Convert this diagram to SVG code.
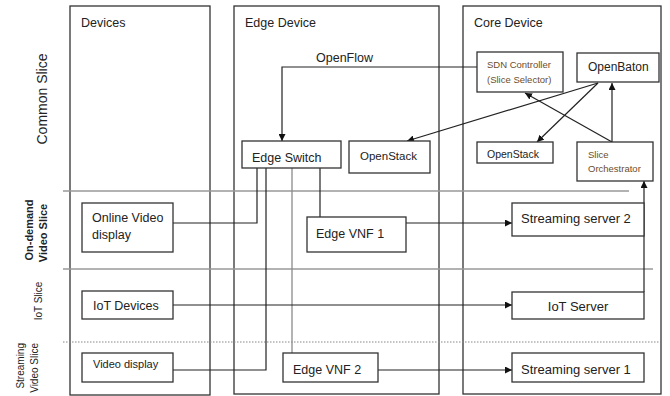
<svg xmlns="http://www.w3.org/2000/svg" width="670" height="396" viewBox="0 0 670 396">
  <style>
    text { font-family: "Liberation Sans", Arial, sans-serif; fill: #222; }
    .col { fill: none; stroke: #333; stroke-width: 1.3; }
    .box { fill: #fff; stroke: #333; stroke-width: 1.3; }
    .div { stroke: #999; stroke-width: 1.3; fill: none; }
    .dot { stroke: #888; stroke-width: 1.2; stroke-dasharray: 1.5 1.5; fill: none; }
    .ln { stroke: #222; stroke-width: 1.2; fill: none; }
    .gray { stroke: #8a8a8a; stroke-width: 1.3; fill: none; }
    .title { font-size: 12.5px; }
    .lbl { font-size: 12.5px; }
    .small { font-size: 9.5px; fill: #6a4e2c; }
  </style>
  <defs>
    <marker id="arr" viewBox="0 0 10 10" refX="10" refY="5" markerWidth="7" markerHeight="7" orient="auto" markerUnits="userSpaceOnUse">
      <path d="M0,0 L10,5 L0,10 z" fill="#111"/>
    </marker>
  </defs>

  <!-- column frames -->
  <g id="col-devices">
    <rect class="col" x="70" y="6" width="140" height="389"/>
    <text class="title" x="81" y="27">Devices</text>
  </g>
  <g id="col-edge">
    <rect class="col" x="234" y="6" width="205" height="388"/>
    <text class="title" x="245" y="27">Edge Device</text>
  </g>
  <g id="col-core">
    <rect class="col" x="463" y="6" width="198" height="388"/>
    <text class="title" x="474" y="27">Core Device</text>
  </g>

  <!-- slice dividers -->
  <g id="dividers">
    <line class="div" x1="63" y1="191" x2="629" y2="191"/>
    <line class="div" x1="63" y1="269" x2="653" y2="269"/>
    <line class="dot" x1="63" y1="342" x2="660" y2="342"/>
  </g>

  <!-- slice labels -->
  <g id="slice-labels">
    <text transform="translate(47,99) rotate(-90)" text-anchor="middle" font-size="14" fill="#333">Common Slice</text>
    <text transform="translate(33,230) rotate(-90)" text-anchor="middle" font-size="11" font-weight="bold" fill="#222">On-demand</text>
    <text transform="translate(47,233) rotate(-90)" text-anchor="middle" font-size="11" font-weight="bold" fill="#222">Video Slice</text>
    <text transform="translate(42,301) rotate(-90)" text-anchor="middle" font-size="10" fill="#8a8a8a">IoT Slice</text>
    <text transform="translate(24,343) rotate(-90)" text-anchor="end" font-size="10" fill="#555">Streaming</text>
    <text transform="translate(38,343) rotate(-90)" text-anchor="end" font-size="10" fill="#555">Video Slice</text>
  </g>

  <!-- connectors -->
  <g id="connectors">
    <path class="ln" d="M477,67 H282 V141" marker-end="url(#arr)"/>
    <text x="316" y="62" font-size="12.5">OpenFlow</text>
    <path class="ln" d="M598,83 L407,141" marker-end="url(#arr)"/>
    <path class="ln" d="M598,83 L537,142" marker-end="url(#arr)"/>
    <path class="ln" d="M612,142 L525,93" marker-end="url(#arr)"/>
    <path class="ln" d="M612,142 V83" marker-end="url(#arr)"/>
    <path class="ln" d="M644,292 V181" marker-end="url(#arr)"/>
    <path class="ln" d="M257,168 V223 H173"/>
    <path class="ln" d="M266,168 V370 H173"/>
    <path class="gray" d="M292,168 V353"/>
    <path class="ln" d="M320,168 V217"/>
    <path class="ln" d="M406,223 H512" marker-end="url(#arr)"/>
    <path class="ln" d="M173,305 H512" marker-end="url(#arr)"/>
    <path class="ln" d="M378,370 H512" marker-end="url(#arr)"/>
  </g>

  <!-- device nodes -->
  <g id="online-video-display">
    <rect class="box" x="82" y="203" width="91" height="49"/>
    <text class="lbl" x="92" y="222">Online Video</text>
    <text class="lbl" x="92" y="239">display</text>
  </g>
  <g id="iot-devices">
    <rect class="box" x="82" y="291" width="91" height="28"/>
    <text class="lbl" x="93" y="310">IoT Devices</text>
  </g>
  <g id="video-display">
    <rect class="box" x="82" y="353" width="91" height="29"/>
    <text x="93" y="368" font-size="11">Video display</text>
  </g>

  <!-- edge nodes -->
  <g id="edge-switch">
    <rect class="box" x="242" y="141" width="99" height="27"/>
    <text class="lbl" x="252" y="162">Edge Switch</text>
  </g>
  <g id="edge-openstack">
    <rect class="box" x="349" y="141" width="81" height="32"/>
    <text x="360" y="160" font-size="11.5">OpenStack</text>
  </g>
  <g id="edge-vnf-1">
    <rect class="box" x="307" y="217" width="99" height="35"/>
    <text class="lbl" x="316" y="238">Edge VNF 1</text>
  </g>
  <g id="edge-vnf-2">
    <rect class="box" x="283" y="353" width="95" height="29"/>
    <text class="lbl" x="293" y="374">Edge VNF 2</text>
  </g>

  <!-- core nodes -->
  <g id="sdn-controller">
    <rect class="box" x="477" y="52" width="86" height="40"/>
    <text class="small" x="487" y="68">SDN Controller</text>
    <text class="small" x="487" y="83">(Slice Selector)</text>
  </g>
  <g id="openbaton">
    <rect class="box" x="577" y="53" width="82" height="29"/>
    <text x="588" y="71" font-size="12">OpenBaton</text>
  </g>
  <g id="core-openstack">
    <rect class="box" x="477" y="142" width="76" height="21"/>
    <text x="487" y="158" font-size="10.5">OpenStack</text>
  </g>
  <g id="slice-orchestrator">
    <rect class="box" x="577" y="142" width="76" height="39"/>
    <text class="small" x="588" y="158">Slice</text>
    <text class="small" x="588" y="172">Orchestrator</text>
  </g>
  <g id="streaming-server-2">
    <rect class="box" x="512" y="203" width="132" height="33"/>
    <text x="521" y="223" font-size="13">Streaming server 2</text>
  </g>
  <g id="iot-server">
    <rect class="box" x="512" y="292" width="132" height="27"/>
    <text x="578" y="311" font-size="13" text-anchor="middle">IoT Server</text>
  </g>
  <g id="streaming-server-1">
    <rect class="box" x="512" y="353" width="132" height="29"/>
    <text x="521" y="374" font-size="13">Streaming server 1</text>
  </g>
</svg>
